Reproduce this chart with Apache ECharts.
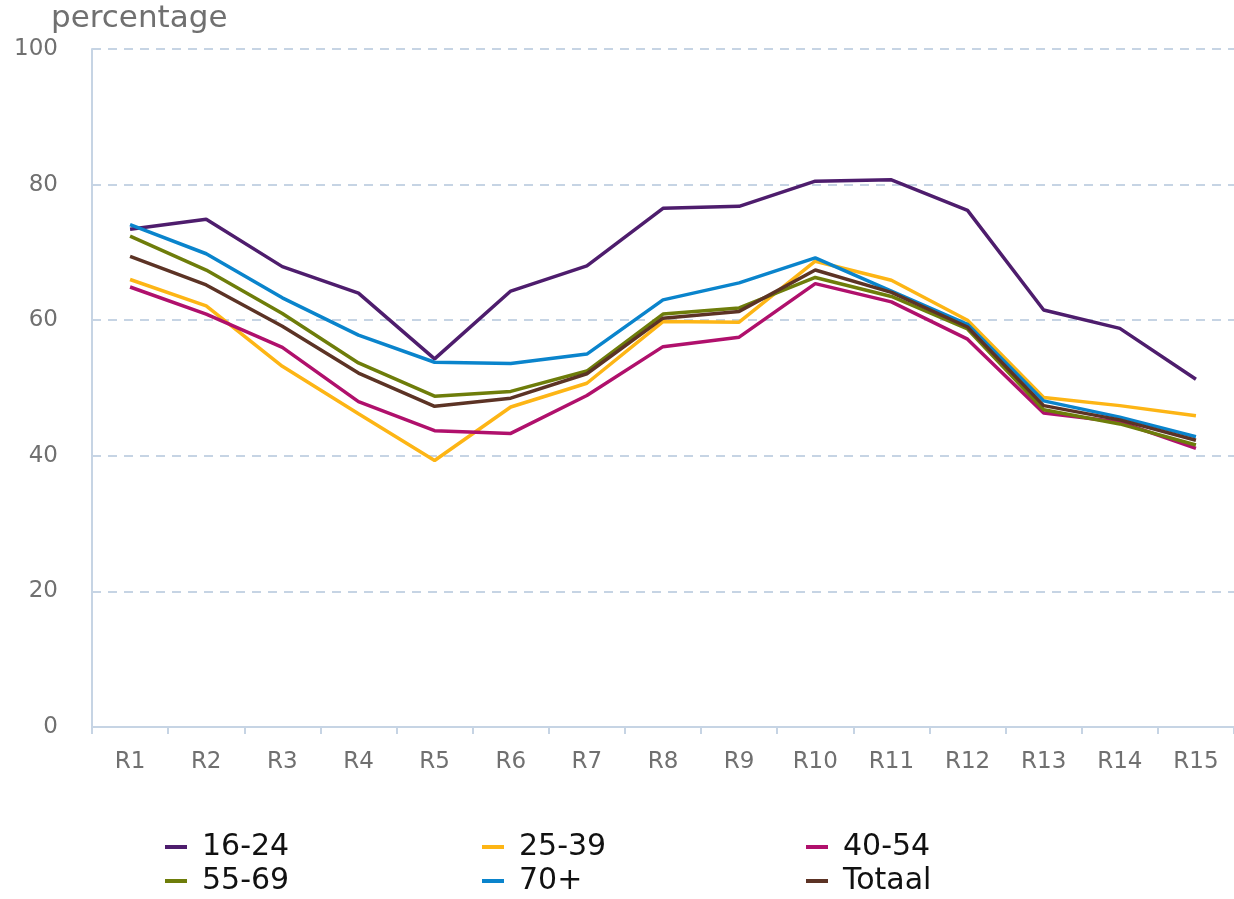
<!DOCTYPE html>
<html>
<head>
<meta charset="utf-8">
<script src="https://cdn.jsdelivr.net/npm/echarts@6/dist/echarts.min.js"></script>
<style>
  html, body { margin: 0; padding: 0; background: #fff; }
  #chart { width: 1234px; height: 899px; }
</style>
</head>
<body>
<div id="chart"></div>
<script>
// Data
const regions = ['R1', 'R2', 'R3', 'R4', 'R5', 'R6', 'R7', 'R8', 'R9', 'R10', 'R11', 'R12', 'R13', 'R14', 'R15'];

const age16_24 = [73.4, 74.9, 67.9, 64.0, 54.3, 64.3, 68.0, 76.5, 76.8, 80.5, 80.7, 76.2, 61.5, 58.8, 51.3];
const age25_39 = [66.0, 62.1, 53.2, 46.2, 39.3, 47.2, 50.7, 59.8, 59.7, 68.7, 65.9, 60.0, 48.6, 47.4, 45.9];
const age40_54 = [64.9, 60.9, 56.0, 48.0, 43.7, 43.3, 48.9, 56.1, 57.5, 65.4, 62.7, 57.2, 46.3, 45.0, 41.1];
const age55_69 = [72.4, 67.4, 61.0, 53.7, 48.8, 49.5, 52.5, 60.9, 61.8, 66.3, 63.5, 58.7, 46.8, 44.7, 41.6];
const age70plus = [74.1, 69.8, 63.3, 57.8, 53.8, 53.6, 55.0, 63.0, 65.5, 69.2, 64.3, 59.4, 48.1, 45.7, 42.8];
const totaal = [69.4, 65.2, 59.1, 52.2, 47.3, 48.5, 52.1, 60.3, 61.3, 67.4, 64.1, 59.0, 47.4, 45.3, 42.3];

const yTicks = [0, 20, 40, 60, 80, 100];

const seriesDefs = [
    { name: '16-24', data: age16_24, color: '#4e1d6d' },
    { name: '25-39', data: age25_39, color: '#fdb515' },
    { name: '40-54', data: age40_54, color: '#b0106c' },
    { name: '55-69', data: age55_69, color: '#6e7d0a' },
    { name: '70+', data: age70plus, color: '#0a84cc' },
    { name: 'Totaal', data: totaal, color: '#5c3325' }
];

// legend grid: 3 columns x 2 rows
const legendCols = [165, 482, 806];
const legendRows = [832, 866];

const AXIS_COLOR = '#c6d4e4';
const TEXT_GRAY = '#707070';
const FONT = 'DejaVu Sans';

function legendItem(name, i) {
    return {
        left: legendCols[i % 3],
        top: legendRows[Math.floor(i / 3)],
        itemWidth: 22,
        itemHeight: 4,
        icon: 'rect',
        padding: 0,
        data: [name],
        textStyle: { fontFamily: FONT, fontSize: 30, color: '#111', padding: [0, 0, 0, 10] }
    };
}

const chart = echarts.init(document.getElementById('chart'), null, { renderer: 'canvas' });

const option = {
    animation: false,
    backgroundColor: '#fff',
    title: {
        text: 'percentage',
        left: 51,
        top: 3,
        padding: 0,
        textStyle: { color: TEXT_GRAY, fontFamily: FONT, fontSize: 31, fontWeight: 'normal' }
    },
    grid: { left: 92, right: 0, top: 49, bottom: 172, containLabel: false },
    legend: seriesDefs.map((s, i) => legendItem(s.name, i)),
    xAxis: {
        type: 'category',
        data: regions,
        boundaryGap: true,
        axisLine: { lineStyle: { color: AXIS_COLOR, width: 2 } },
        axisTick: { show: true, length: 7, lineStyle: { color: AXIS_COLOR, width: 2 } },
        axisLabel: { color: TEXT_GRAY, fontFamily: FONT, fontSize: 23, margin: 24 }
    },
    yAxis: {
        type: 'value',
        min: yTicks[0],
        max: yTicks[yTicks.length - 1],
        interval: 20,
        axisLine: { show: true, lineStyle: { color: AXIS_COLOR, width: 2 } },
        axisTick: { show: false },
        axisLabel: { color: TEXT_GRAY, fontFamily: FONT, fontSize: 23, margin: 34 },
        splitLine: { lineStyle: { color: AXIS_COLOR, width: 2, type: [9, 7] } }
    },
    series: seriesDefs.map(s => ({
        name: s.name,
        type: 'line',
        data: s.data,
        color: s.color,
        symbol: 'none',
        lineStyle: { width: 3.5, color: s.color }
    }))
};

chart.setOption(option);
</script>
</body>
</html>
